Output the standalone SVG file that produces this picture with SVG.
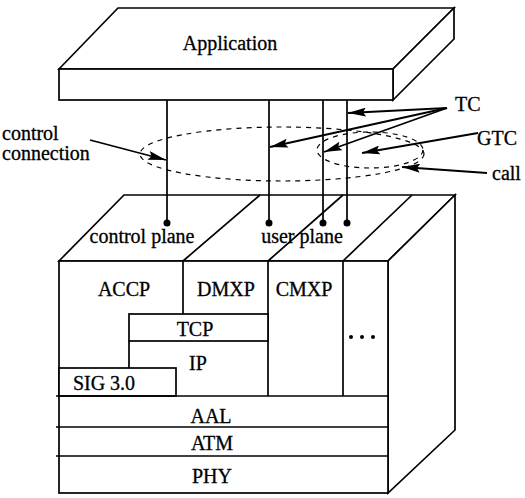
<svg xmlns="http://www.w3.org/2000/svg" width="525" height="498" viewBox="0 0 525 498">
<style>
.s{fill:#fff;stroke:#000;stroke-width:1.7;stroke-linejoin:miter}
.l{fill:none;stroke:#000;stroke-width:1.7}
.d{fill:none;stroke:#000;stroke-width:1.2;stroke-dasharray:5 5}
.a{fill:none;stroke:#000;stroke-width:1.8}
.t{font-family:"Liberation Serif","Times New Roman",serif;font-size:20px;fill:#000;stroke:#000;stroke-width:0.3}
.m{text-anchor:middle}
</style>
<defs>
<marker id="ah" viewBox="0 0 18 9" refX="18" refY="4.5" markerWidth="18" markerHeight="9" markerUnits="userSpaceOnUse" orient="auto">
<path d="M0,0 L18,4.5 L0,9 L3,4.5 Z" fill="#000"/>
</marker>
</defs>
<rect width="525" height="498" fill="#fff"/>

<g id="application">
<path class="s" d="M59,69 L118,8 L454,8 L393,69 Z"/>
<path class="s" d="M393,69 L454,8 L454,39 L393,100 Z"/>
<rect class="s" x="59" y="69" width="334" height="31"/>
<text class="t m" x="230" y="50">Application</text>
</g>

<g id="stack">
<path class="s" d="M59,261 L124,195 L455,195 L388,261 Z"/>
<path class="s" d="M388,261 L455,195 L455,430 L388,493 Z"/>
<rect class="s" x="59" y="261" width="329" height="232"/>
<path class="l" d="M183,261 L260,195 M268,261 L343,195 M343,261 L412,195"/>
</g>

<g id="control-plane">
<text class="t m" x="142" y="243">control plane</text>
</g>
<g id="user-plane">
<text class="t m" x="302" y="243">user plane</text>
</g>

<g id="accp">
<text class="t m" x="124" y="296">ACCP</text>
</g>
<g id="dmxp">
<path class="l" d="M183,261 L183,314"/>
<text class="t m" x="226" y="296">DMXP</text>
</g>
<g id="cmxp">
<path class="l" d="M268,261 L268,396"/>
<text class="t m" x="304" y="296">CMXP</text>
</g>
<g id="more">
<path class="l" d="M343,261 L343,396"/>
<circle cx="351" cy="337" r="2"/>
<circle cx="362" cy="337" r="2"/>
<circle cx="373" cy="337" r="2"/>
</g>
<g id="tcp">
<rect class="s" x="129" y="314" width="139" height="27"/>
<text class="t m" x="195" y="336">TCP</text>
</g>
<g id="ip">
<path class="l" d="M129,341 L129,368"/>
<text class="t m" x="198" y="370">IP</text>
</g>
<g id="sig">
<rect class="s" x="59" y="368" width="117" height="28"/>
<text class="t m" x="104" y="390">SIG 3.0</text>
</g>
<g id="aal">
<path class="l" d="M56,396 L388,396"/>
<text class="t m" x="211" y="423">AAL</text>
</g>
<g id="atm">
<path class="l" d="M56,427 L388,427"/>
<text class="t m" x="212" y="450">ATM</text>
</g>
<g id="phy">
<path class="l" d="M56,456 L388,456"/>
<text class="t m" x="212" y="483">PHY</text>
</g>

<g id="call-ellipse">
<ellipse class="d" cx="282" cy="154" rx="142" ry="27"/>
</g>
<g id="gtc-ellipse">
<ellipse class="d" cx="370" cy="150" rx="53" ry="18"/>
</g>

<g id="labels">
<text class="t" x="2" y="140">control</text>
<text class="t" x="2" y="160">connection</text>
<text class="t" x="455" y="111">TC</text>
<text class="t" x="477" y="145">GTC</text>
<text class="t" x="492" y="180">call</text>
</g>

<g id="connectors">
<path class="l" d="M167,100 L167,223 M269,100 L269,223 M323,100 L323,223 M347,100 L347,223"/>
<circle cx="167" cy="223" r="3.5"/>
<circle cx="269" cy="223" r="3.5"/>
<circle cx="323" cy="223" r="3.5"/>
<circle cx="347" cy="223" r="3.5"/>
<path class="a" d="M90,140 L166,160" marker-end="url(#ah)"/>
<path class="a" d="M447,108 L348,113" marker-end="url(#ah)"/>
<path class="a" d="M447,108 L270,147" marker-end="url(#ah)"/>
<path class="a" d="M447,108 L324,152" marker-end="url(#ah)"/>
<path class="a" d="M478,133 L362,153" marker-end="url(#ah)"/>
<path class="a" d="M487,173 L402,167" marker-end="url(#ah)"/>
</g>
</svg>
